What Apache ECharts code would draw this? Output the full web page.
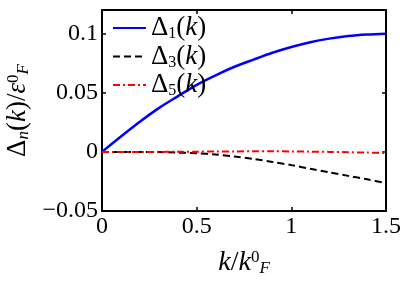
<!DOCTYPE html>
<html>
<head>
<meta charset="utf-8">
<script src="https://cdn.jsdelivr.net/npm/echarts@6/dist/echarts.min.js"></script>
<style>
  html, body { margin: 0; padding: 0; background: #fff; }
  #chart { width: 407px; height: 284px; }
</style>
</head>
<body>
<div id="chart"></div>
<script>
// k / k_F^0 sample points
const kValues = [0, 0.1, 0.2, 0.3, 0.4, 0.5, 0.6, 0.7, 0.8, 0.9, 1.0, 1.1, 1.2, 1.3, 1.4, 1.5];

// Delta_n(k) / eps_F^0
const delta1 = [0, 0.013, 0.0255, 0.037, 0.047, 0.0567, 0.0648, 0.072, 0.078, 0.0838, 0.0887, 0.0928, 0.0958, 0.098, 0.0993, 0.1];
const delta3 = [0, 0, -0.0001, -0.0002, -0.0006, -0.0012, -0.0022, -0.0039, -0.006, -0.0085, -0.0112, -0.0143, -0.0173, -0.0203, -0.0232, -0.0265];
const delta5 = [0, 0, 0, 0, 0.0001, 0.0002, 0.0003, 0.0004, 0.0005, 0.0005, 0.0004, 0.0002, 0, -0.0003, -0.0006, -0.0009];

const seriesNames = ["d1", "d3", "d5"];
const legendSubs = { d1: "1", d3: "3", d5: "5" };

const xTickLabels = { "0": "0", "0.5": "0.5", "1": "1", "1.5": "1.5" };
const yTickLabels = { "-0.05": "\u22120.05", "0": "0", "0.05": "0.05", "0.1": "0.1" };

const FONT = "Liberation Serif";

const chart = echarts.init(document.getElementById("chart"));

function pairs(values) {
  return kValues.map((k, i) => [k, values[i]]);
}

function tickLabel(map, v) {
  const key = String(Math.round(v * 1000) / 1000);
  return map[key] !== undefined ? map[key] : key;
}

function mathRich(size, small) {
  return {
    it: { fontFamily: FONT, fontStyle: "italic", fontSize: size, color: "#000" },
    rm: { fontFamily: FONT, fontSize: size, color: "#000" },
    sub: { fontFamily: FONT, fontStyle: "italic", fontSize: small, color: "#000", verticalAlign: "bottom" },
    sup: { fontFamily: FONT, fontSize: small, color: "#000", verticalAlign: "top" }
  };
}

const legendRich = {
  rm: { fontFamily: FONT, fontSize: 27, color: "#000" },
  it: { fontFamily: FONT, fontStyle: "italic", fontSize: 27, color: "#000" },
  sub: { fontFamily: FONT, fontSize: 16, color: "#000", verticalAlign: "bottom" }
};

const lineStyles = {
  d1: { color: "#0000ff", width: 2.5, type: "solid" },
  d3: { color: "#000000", width: 2, type: [7, 4] },
  d5: { color: "#ff0000", width: 2, type: [7, 3, 2, 3] }
};
const seriesData = { d1: delta1, d3: delta3, d5: delta5 };

const boxAxisLine = { show: true, onZero: false, lineStyle: { color: "#000", width: 2 } };
const boxTick = { show: true, inside: true, length: 4, lineStyle: { color: "#000", width: 1.5 } };

chart.setOption({
  animation: false,
  backgroundColor: "#fff",
  grid: { left: 102, right: 21, top: 10, bottom: 73, containLabel: false, outerBoundsMode: "none" },
  legend: {
    left: 112,
    top: 14,
    orient: "vertical",
    itemWidth: 33,
    itemHeight: 10,
    itemGap: 0.5,
    padding: 0,
    data: seriesNames,
    itemStyle: { opacity: 0 },
    formatter: (name) => `{rm|\u0394}{sub|${legendSubs[name]}}{rm|(}{it|k}{rm|)}`,
    textStyle: { rich: legendRich, lineHeight: 28, padding: [0, 0, 0, 0] }
  },
  xAxis: [
    {
      type: "value",
      min: 0,
      max: 1.5,
      interval: 0.5,
      axisLine: boxAxisLine,
      axisTick: boxTick,
      splitLine: { show: false },
      axisLabel: {
        color: "#000",
        fontFamily: FONT,
        fontSize: 24,
        margin: 4,
        formatter: (v) => tickLabel(xTickLabels, v)
      },
      name: "{it|k}{rm|/}{it|k}{sup|0}{sub|F}",
      nameLocation: "middle",
      nameGap: 38,
      nameTextStyle: { rich: mathRich(28, 17) }
    },
    {
      type: "value",
      position: "top",
      min: 0,
      max: 1.5,
      interval: 0.5,
      axisLine: boxAxisLine,
      axisTick: boxTick,
      axisLabel: { show: false },
      splitLine: { show: false }
    }
  ],
  yAxis: [
    {
      type: "value",
      min: -0.05,
      max: 0.12,
      interval: 0.05,
      axisLine: boxAxisLine,
      axisTick: boxTick,
      splitLine: { show: false },
      axisLabel: {
        color: "#000",
        fontFamily: FONT,
        fontSize: 24,
        margin: 4,
        showMaxLabel: false,
        formatter: (v) => tickLabel(yTickLabels, v)
      },
      name: "{rm|\u0394}{sub|n}{rm|(}{it|k}{rm|)/}{it|\u03b5}{sup|0}{sub|F}",
      nameLocation: "middle",
      nameRotate: 90,
      nameGap: 70,
      nameTextStyle: { rich: mathRich(27, 17) }
    },
    {
      type: "value",
      position: "right",
      min: -0.05,
      max: 0.12,
      interval: 0.05,
      axisLine: boxAxisLine,
      axisTick: boxTick,
      axisLabel: { show: false },
      splitLine: { show: false }
    }
  ],
  series: seriesNames.map((name) => ({
    name,
    type: "line",
    xAxisIndex: 0,
    yAxisIndex: 0,
    data: pairs(seriesData[name]),
    smooth: 0.3,
    symbol: "none",
    lineStyle: lineStyles[name],
    itemStyle: { color: lineStyles[name].color }
  }))
});
</script>
</body>
</html>
